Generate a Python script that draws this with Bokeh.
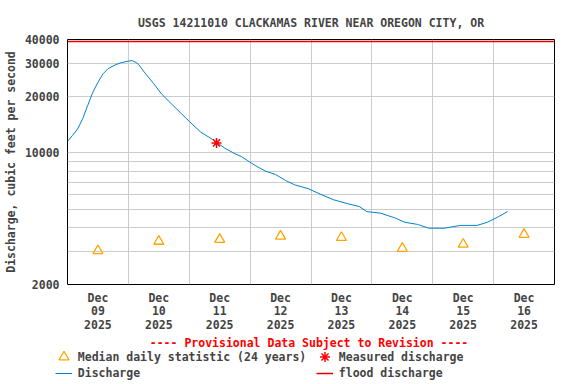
import pandas as pd
from bokeh.plotting import figure
from bokeh.layouts import column
from bokeh.models import (FixedTicker, Range1d, Legend, LegendItem, Label,
                          PrintfTickFormatter, ColumnDataSource)
from bokeh.embed import file_html
from bokeh.resources import INLINE

title_text = "USGS 14211010 CLACKAMAS RIVER NEAR OREGON CITY, OR"
y_label = "Discharge, cubic feet per second"
provisional_text = "---- Provisional Data Subject to Revision ----"

discharge_time = [
    "2025-12-09 00:00", "2025-12-09 02:00", "2025-12-09 04:00", "2025-12-09 06:00",
    "2025-12-09 08:00", "2025-12-09 10:00", "2025-12-09 12:00", "2025-12-09 14:00",
    "2025-12-09 16:00", "2025-12-09 19:00", "2025-12-09 21:00", "2025-12-10 00:00",
    "2025-12-10 01:30", "2025-12-10 03:00", "2025-12-10 04:00", "2025-12-10 06:30",
    "2025-12-10 10:00", "2025-12-10 13:00", "2025-12-10 17:00", "2025-12-10 21:00",
    "2025-12-11 00:00", "2025-12-11 04:30", "2025-12-11 10:00", "2025-12-11 14:00",
    "2025-12-11 18:00", "2025-12-11 20:30", "2025-12-11 23:00", "2025-12-12 02:00",
    "2025-12-12 06:00", "2025-12-12 10:00", "2025-12-12 14:00", "2025-12-12 17:30",
    "2025-12-12 23:00", "2025-12-13 04:00", "2025-12-13 09:00", "2025-12-13 14:30",
    "2025-12-13 19:00", "2025-12-13 22:00", "2025-12-14 03:30", "2025-12-14 09:00",
    "2025-12-14 13:00", "2025-12-14 18:00", "2025-12-14 22:30", "2025-12-15 04:30",
    "2025-12-15 11:00", "2025-12-15 17:30", "2025-12-15 21:30", "2025-12-16 01:30",
    "2025-12-16 05:30",
]
discharge_cfs = [
    11500, 12400, 13400, 15200,
    17900, 21000, 23700, 26300,
    28000, 29400, 30100, 30700,
    30900, 30200, 29500, 26600,
    23300, 20600, 18200, 16100,
    14700, 12900, 11600, 10600,
    9900, 9570, 9100, 8570,
    8000, 7680, 7130, 6770,
    6450, 6010, 5630, 5370,
    5190, 4880, 4780, 4520,
    4280, 4170, 3980, 3980,
    4120, 4120, 4280, 4550,
    4880,
]

median_time = ["2025-12-09 12:00", "2025-12-10 12:00", "2025-12-11 12:00", "2025-12-12 12:00",
               "2025-12-13 12:00", "2025-12-14 12:00", "2025-12-15 12:00", "2025-12-16 12:00"]
median_cfs = [3020, 3390, 3470, 3610, 3550, 3110, 3270, 3690]

measured_time = ["2025-12-11 10:45"]
measured_cfs = [11300]

flood_cfs = 39000

day_ticks = ["2025-12-09 12:00", "2025-12-10 12:00", "2025-12-11 12:00", "2025-12-12 12:00",
             "2025-12-13 12:00", "2025-12-14 12:00", "2025-12-15 12:00", "2025-12-16 12:00"]
day_labels = ["Dec\n09\n2025", "Dec\n10\n2025", "Dec\n11\n2025", "Dec\n12\n2025",
              "Dec\n13\n2025", "Dec\n14\n2025", "Dec\n15\n2025", "Dec\n16\n2025"]
day_grid = ["2025-12-10 00:00", "2025-12-11 00:00", "2025-12-12 00:00", "2025-12-13 00:00",
            "2025-12-14 00:00", "2025-12-15 00:00", "2025-12-16 00:00"]
x_start = "2025-12-09 00:00"
x_end = "2025-12-17 00:00"

y_tick_values = [2000, 10000, 20000, 30000, 40000]
y_grid_values = [3000, 4000, 5000, 6000, 7000, 8000, 9000, 10000, 20000, 30000]
y_min, y_max = 2000, 40000

legend_labels = ["Median daily statistic (24 years)", "Measured discharge",
                 "Discharge", "flood discharge"]

FONT = "DejaVu Sans Mono"
FS = "11.5px"
C_Q = "#0080D0"
C_MED = "#FFA500"
C_MEAS = "#FF0000"
C_FLOOD = "#E00000"


def ms(t):
    return pd.Timestamp(t).timestamp() * 1000.0


p = figure(width=576, height=334, output_backend="svg", toolbar_location=None,
           x_axis_type="datetime", y_axis_type="log",
           x_range=Range1d(ms(x_start), ms(x_end)), y_range=Range1d(y_min, y_max),
           min_border_left=66, min_border_right=22, min_border_top=39, min_border_bottom=50)

p.background_fill_color = "white"
p.border_fill_color = "white"
p.outline_line_color = "black"
p.outline_line_width = 1

p.title.text = title_text
p.title.align = "center"
p.title.text_font = FONT
p.title.text_font_size = FS
p.title.text_font_style = "bold"
p.title.standoff = 19

xa = p.xaxis[0]
xa.ticker = FixedTicker(ticks=[ms(t) for t in day_ticks])
xa.major_label_overrides = {int(ms(t)): lab for t, lab in zip(day_ticks, day_labels)}
xa.axis_line_color = None
xa.major_tick_line_color = None
xa.minor_tick_line_color = None
xa.major_tick_out = 0
xa.major_tick_in = 0
xa.minor_tick_out = 0
xa.major_label_text_font = FONT
xa.major_label_text_font_size = FS
xa.major_label_text_font_style = "bold"
xa.major_label_text_line_height = 0.98
xa.major_label_standoff = 6

ya = p.yaxis[0]
ya.ticker = FixedTicker(ticks=y_tick_values)
ya.formatter = PrintfTickFormatter(format="%d")
ya.axis_line_color = None
ya.major_tick_line_color = None
ya.minor_tick_line_color = None
ya.major_tick_out = 0
ya.major_tick_in = 0
ya.minor_tick_out = 0
ya.major_label_text_font = FONT
ya.major_label_text_font_size = FS
ya.major_label_text_font_style = "bold"
ya.major_label_standoff = 8
ya.axis_label = y_label
ya.axis_label_text_font = FONT
ya.axis_label_text_font_size = FS
ya.axis_label_text_font_style = "bold"
ya.axis_label_standoff = 4

p.xgrid.ticker = FixedTicker(ticks=[ms(t) for t in day_grid])
p.ygrid.ticker = FixedTicker(ticks=y_grid_values)
p.xgrid.grid_line_color = "#cccccc"
p.ygrid.grid_line_color = "#cccccc"

q_src = ColumnDataSource(dict(t=pd.to_datetime(discharge_time), q=discharge_cfs))
med_src = ColumnDataSource(dict(t=pd.to_datetime(median_time), q=median_cfs))
meas_src = ColumnDataSource(dict(t=pd.to_datetime(measured_time), q=measured_cfs))
flood_src = ColumnDataSource(dict(t=pd.to_datetime([x_start, x_end]), q=[flood_cfs, flood_cfs]))

styles = {
    "flood": dict(line_color=C_FLOOD, line_width=1.5),
    "q": dict(line_color=C_Q, line_width=1),
    "med": dict(marker="triangle", size=10, fill_color=None, line_color=C_MED, line_width=1.3),
    "meas": dict(marker="asterisk", size=10, line_color=C_MEAS, line_width=1.5),
}

p.line("t", "q", source=flood_src, **styles["flood"])
p.line("t", "q", source=q_src, **styles["q"])
p.scatter("t", "q", source=med_src, **styles["med"])
p.scatter("t", "q", source=meas_src, **styles["meas"])

# ---- footer figure: provisional note + legend (the same series/styles,
#      which fall outside this footer's own ranges, serve as legend glyphs)
p2 = figure(width=576, height=50, output_backend="svg", toolbar_location=None,
            x_range=Range1d(0, 576), y_range=Range1d(0, 50),
            x_axis_location=None, y_axis_location=None,
            min_border_left=0, min_border_right=0, min_border_top=0, min_border_bottom=0)
try:
    p2.frame_align = False
except Exception:
    pass
p2.outline_line_color = None
p2.grid.visible = False
p2.background_fill_color = "white"
p2.border_fill_color = "white"

g_flood = p2.line("t", "q", source=flood_src, **styles["flood"])
g_q = p2.line("t", "q", source=q_src, **styles["q"])
g_med = p2.scatter("t", "q", source=med_src, **styles["med"])
g_meas = p2.scatter("t", "q", source=meas_src, **styles["meas"])

p2.add_layout(Label(x=308.5, y=41.3, x_units="screen", y_units="screen",
                    text=provisional_text, text_align="center", text_baseline="middle",
                    text_font=FONT, text_font_size=FS, text_font_style="bold",
                    text_color="#FF0000"))

common = dict(orientation="horizontal", padding=0, margin=0, spacing=0,
              border_line_color=None, background_fill_alpha=0,
              label_text_font=FONT, label_text_font_size=FS,
              label_text_font_style="bold", label_height=10)

leg1 = Legend(items=[LegendItem(label=legend_labels[0], renderers=[g_med]),
                     LegendItem(label=legend_labels[1], renderers=[g_meas])],
              location=(50.8, 14.8), glyph_width=25, glyph_height=25,
              label_standoff=2, label_width=234, **common)
leg2 = Legend(items=[LegendItem(label=legend_labels[2], renderers=[g_q]),
                     LegendItem(label=legend_labels[3], renderers=[g_flood])],
              location=(54.8, 4.3), glyph_width=17, glyph_height=14,
              label_standoff=6, label_width=238, **common)
p2.add_layout(leg1, "center")
p2.add_layout(leg2, "center")

layout = column(p, p2, spacing=0)
open("out.html", "w").write(file_html(layout, INLINE))
